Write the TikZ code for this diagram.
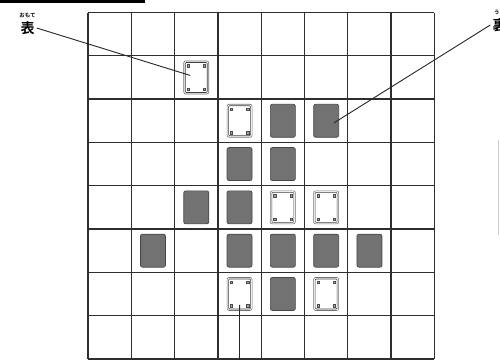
\documentclass[tikz,border=0pt]{standalone}
\usepackage{fontspec}
\newfontfamily\jp{Noto Sans CJK JP}[BoldFont={Noto Sans CJK JP Bold}]
\usepackage{xcolor}
\usepackage{tikz}
\usetikzlibrary{calc,positioning}
\definecolor{gridc}{HTML}{2E2E2E}
\definecolor{urac}{HTML}{727272}
\definecolor{uraln}{HTML}{474747}
\tikzset{
  gl/.style={gridc,line width=1.3pt},
  omote/.style={draw=black!55,line width=0.6pt,rounded corners=2pt,fill=white,minimum width=25pt,minimum height=33pt,inner sep=0pt},
  ura/.style={draw=uraln,line width=0.7pt,rounded corners=2pt,fill=urac,minimum width=25pt,minimum height=33pt,inner sep=0pt},
  inl/.style={draw=black!75,line width=0.6pt,rounded corners=1pt},
  dot/.style={draw=black!70,fill=black!35,line width=0.4pt,minimum size=2.4pt,inner sep=0pt},
  ldr/.style={black!85,line width=0.9pt},
  kj/.style={font=\jp\bfseries\fontsize{14}{14}\selectfont,inner sep=2pt},
  rb/.style={font=\jp\bfseries\fontsize{5.5}{5.5}\selectfont,inner sep=0.5pt}
}
\begin{document}
\begin{tikzpicture}[x=1pt,y=-1pt]
\useasboundingbox (0,0) rectangle (500,359);
\clip (0,0) rectangle (500,359);
\fill[white] (0,0) rectangle (500,359);
\fill[black] (0,0) rectangle (145,2.5);
\draw[gray!40,line width=1pt] (498,140) -- (498,235);
\foreach \i in {0,...,8}{
  \draw[gl] ({88+43.3*\i},12.5) -- ({88+43.3*\i},358.9);
  \draw[gl] (88,{12.5+43.3*\i}) -- (434.4,{12.5+43.3*\i});
}
\foreach \r/\c in {2/4,2/5,3/3,3/4,4/2,4/3,5/1,5/3,5/4,5/5,5/6,6/4}{
  \node[ura] (c\r\c) at ({88+43.3*(\c+0.5)},{12.5+43.3*(\r+0.5)}) {};
}
\foreach \r/\c in {1/2,2/3,4/4,4/5,6/3,6/5}{
  \node[omote] (c\r\c) at ({88+43.3*(\c+0.5)},{12.5+43.3*(\r+0.5)}) {};
  \draw[inl] ($(c\r\c.north west)+(1.8,1.8)$) rectangle ($(c\r\c.south east)+(-1.8,-1.8)$);
  \foreach \sx in {-1,1}{\foreach \sy in {-1,1}{
    \node[dot] at ($(c\r\c)+(\sx*8.2,\sy*11.8)$) {};
  }}
}
\node[kj] (lomote) at (27.5,28) {表};
\node[rb,above=0.6pt of lomote] (romote) {おもて};
\node[kj] (lura) at (499.5,25) {裏};
\node[rb,above=0.6pt of lura] (rura) {うら};
\coordinate (bot) at (239.5,362);
\draw[ldr] (lomote.east) -- ($(c12)+(-6,-2)$);
\draw[ldr] (lura.west) -- ($(c25)+(8,2)$);
\draw[ldr] ($(c63)+(0,11)$) -- (bot);
\end{tikzpicture}
\end{document}
